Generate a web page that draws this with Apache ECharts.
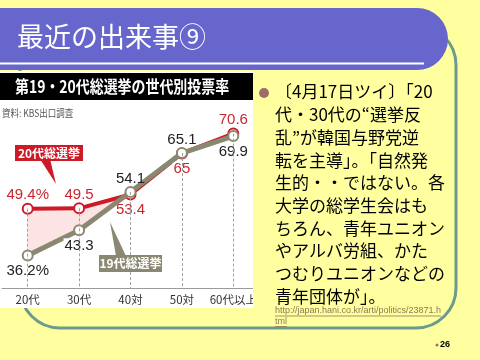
<!DOCTYPE html>
<html>
<head>
<meta charset="utf-8">
<script src="https://cdn.jsdelivr.net/npm/echarts@6/dist/echarts.min.js"></script>
<style>
html,body{margin:0;padding:0;background:#FFFF9F;}
#chart{width:480px;height:360px;}
</style>
</head>
<body>
<div id="chart"></div>
<script>
// ---- data ----
const categories = ['20代', '30代', '40対', '50対', '60代以上'];
const vote20 = [49.4, 49.5, 53.4, 65, 70.6];   // 第20代総選挙
const vote19 = [36.2, 43.3, 54.1, 65.1, 69.9]; // 第19代総選挙
const labels20 = ['49.4%', '49.5', '53.4', '65', '70.6'];
const labels19 = ['36.2%', '43.3', '54.1', '65.1', '69.9'];
const slideTitle = '最近の出来事⑨';
const chartTitle = '第19・20代総選挙の世代別投票率';
const sourceText = '資料: KBS出口調査';
const callout20 = '20代総選挙';
const callout19 = '19代総選挙';
const bodyLines = [
  '〔4月17日ツイ〕「20',
  '代・30代の“選挙反',
  '乱”が韓国与野党逆',
  '転を主導」。「自然発',
  '生的・・ではない。各',
  '大学の総学生会はも',
  'ちろん、青年ユニオン',
  'やアルバ労組、かた',
  'つむりユニオンなどの',
  '青年団体が」。'
];
const urlLines = ['http://japan.hani.co.kr/arti/politics/23871.h', 'tml'];
const pageNo = '26';

// ---- styles ----
const RED = '#CC1A26';
const GRAY = '#8B8872';
const JP = '"Noto Sans CJK JP", sans-serif';
const LAT = '"Liberation Sans", Arial, sans-serif';
const AXMIN = 27;

// which labels sit above / below their point
const pos20 = ['top', 'top', 'bottom', 'bottom', 'top'];
const pos19 = ['bottom', 'bottom', 'top', 'top', 'bottom'];

const nFill = 3; // pink band between the two lines for the first three groups
const fillBase = vote19.map((v, i) => i < nFill ? v : '-');
const fillGap = vote19.map((v, i) => i < nFill ? Math.max(0, +(vote20[i] - v).toFixed(1)) : '-');

function items(vals, pos) {
  return vals.map((v, i) => ({
    value: v,
    label: {
      position: pos[i],
      distance: pos[i] === 'top' ? 0 : 2,
      backgroundColor: pos[i] === 'bottom' ? '#ffffff' : 'transparent',
      padding: [0, 1]
    }
  }));
}

const measure = document.createElement('canvas').getContext('2d');
measure.font = '9px "Liberation Sans"';
const urlW = urlLines.map(t => measure.measureText(t).width);

const g = [];
// slide frame
g.push({type: 'rect', z: -5, silent: true, shape: {x: 20, y: 25, width: 436, height: 303, r: 40},
  style: {fill: 'none', stroke: '#6B9A8E', lineWidth: 3}});
g.push({type: 'rect', z: -4, silent: true, shape: {x: -40, y: 8, width: 488, height: 62, r: [0, 31, 31, 0]},
  style: {fill: '#6666CC'}});
g.push({type: 'line', z: -3, silent: true, shape: {x1: 0, y1: 63.5, x2: 424, y2: 63.5},
  style: {stroke: '#ffffff', lineWidth: 2}});
g.push({type: 'text', z: -3, silent: true, x: 17, y: 37,
  style: {text: slideTitle, fill: '#ffffff', font: '27px ' + JP, textVerticalAlign: 'middle'}});
// pasted chart image area
g.push({type: 'rect', z: -3, silent: true, shape: {x: 0, y: 71, width: 253, height: 237}, style: {fill: '#ffffff'}});
g.push({type: 'rect', z: -2, silent: true, shape: {x: 0, y: 73, width: 253, height: 27}, style: {fill: '#000000'}});
g.push({type: 'text', z: -1, silent: true, x: 15, y: 87, scaleX: 0.82,
  style: {text: chartTitle, fill: '#ffffff', font: 'bold 17px ' + JP, textVerticalAlign: 'middle'}});
g.push({type: 'text', z: -1, silent: true, x: 2, y: 113, scaleX: 0.85,
  style: {text: sourceText, fill: '#555555', font: '10px ' + JP, textVerticalAlign: 'middle'}});
// callouts
g.push({type: 'polygon', z: 6, silent: true, shape: {points: [[40, 159], [50, 159], [56, 184]]}, style: {fill: RED}});
g.push({type: 'rect', z: 6, silent: true, shape: {x: 15, y: 145, width: 68, height: 16}, style: {fill: RED}});
g.push({type: 'text', z: 7, silent: true, x: 49, y: 153,
  style: {text: callout20, fill: '#ffffff', font: 'bold 12px ' + JP, textAlign: 'center', textVerticalAlign: 'middle'}});
g.push({type: 'polygon', z: 6, silent: true, shape: {points: [[116, 256], [126, 256], [110, 222]]}, style: {fill: GRAY}});
g.push({type: 'rect', z: 6, silent: true, shape: {x: 99, y: 255, width: 63, height: 17}, style: {fill: GRAY}});
g.push({type: 'text', z: 7, silent: true, x: 130.5, y: 263.5,
  style: {text: callout19, fill: '#ffffff', font: 'bold 12px ' + JP, textAlign: 'center', textVerticalAlign: 'middle'}});
// image edge mask
g.push({type: 'rect', z: 50, silent: true, shape: {x: 253, y: 71, width: 15, height: 240}, style: {fill: '#FFFF9F'}});
// bullet + body text
g.push({type: 'circle', z: 51, silent: true, shape: {cx: 264, cy: 93, r: 5}, style: {fill: '#9E6B6B'}});
bodyLines.forEach((t, i) => {
  g.push({type: 'text', z: 51, silent: true, x: 275, y: 92 + i * 22.7,
    style: {text: t, fill: '#000000', font: '17px ' + JP, textVerticalAlign: 'middle'}});
});
urlLines.forEach((t, i) => {
  const y = 311 + i * 10.5;
  g.push({type: 'text', z: 51, silent: true, x: 275, y: y,
    style: {text: t, fill: '#8A7A5A', font: '9px ' + LAT, textVerticalAlign: 'middle'}});
  g.push({type: 'line', z: 51, silent: true, shape: {x1: 275, y1: y + 5, x2: 275 + urlW[i], y2: y + 5},
    style: {stroke: '#8A7A5A', lineWidth: 0.8}});
});
g.push({type: 'circle', z: 51, silent: true, shape: {cx: 437, cy: 345, r: 1.5}, style: {fill: '#9E6B6B'}});
g.push({type: 'text', z: 51, silent: true, x: 440, y: 345,
  style: {text: pageNo, fill: '#000000', font: 'bold 9px ' + LAT, textVerticalAlign: 'middle'}});

const option = {
  backgroundColor: '#FFFF9F',
  animation: false,
  grid: {left: 2, top: 118, width: 257, height: 170},
  xAxis: {
    type: 'category', data: categories, boundaryGap: true, z: 3,
    axisLine: {lineStyle: {color: '#9a9a9a', width: 1}},
    axisTick: {show: false},
    axisLabel: {interval: 0, color: '#333333', fontSize: 11.5, fontFamily: JP, margin: 6}
  },
  yAxis: {type: 'value', min: AXMIN, max: 75, show: false},
  series: [
    {
      type: 'line', data: fillBase, stack: 'gap', symbol: 'none', silent: true, z: 1,
      lineStyle: {opacity: 0},
      markLine: {
        silent: true, symbol: ['none', 'none'], label: {show: false},
        lineStyle: {type: [3, 2], color: '#a0a0a0', width: 1},
        data: categories.map((c, i) => [
          {coord: [i, Math.max(vote19[i], vote20[i])]},
          {coord: [i, AXMIN]}
        ])
      }
    },
    {
      type: 'line', data: fillGap, stack: 'gap', symbol: 'none', silent: true, z: 1,
      lineStyle: {opacity: 0},
      areaStyle: {color: '#FCE4E4', opacity: 1}
    },
    {
      name: '20代総選挙', type: 'line', z: 3,
      data: items(vote20, pos20),
      symbol: 'circle', symbolSize: 10,
      lineStyle: {color: RED, width: 4},
      itemStyle: {color: '#ffffff', borderColor: RED, borderWidth: 2},
      label: {show: true, formatter: p => labels20[p.dataIndex], color: '#C8282D', fontSize: 15, fontFamily: LAT}
    },
    {
      name: '19代総選挙', type: 'line', z: 4,
      data: items(vote19, pos19),
      symbol: 'circle', symbolSize: 10,
      lineStyle: {color: GRAY, width: 5},
      itemStyle: {color: '#ffffff', borderColor: GRAY, borderWidth: 2},
      label: {show: true, formatter: p => labels19[p.dataIndex], color: '#222222', fontSize: 15, fontFamily: LAT}
    }
  ],
  graphic: {elements: g}
};

const chart = echarts.init(document.getElementById('chart'), null, {renderer: 'canvas'});
chart.setOption(option);
</script>
</body>
</html>
